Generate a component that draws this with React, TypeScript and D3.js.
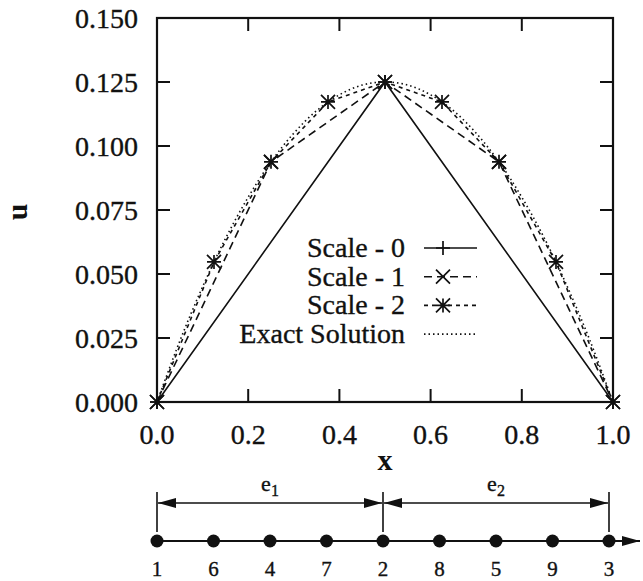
import React from "react";
import * as d3 from "d3";

// values
const xTicks = [0, 0.2, 0.4, 0.6, 0.8, 1.0];
const xTickLabels = ["0.0", "0.2", "0.4", "0.6", "0.8", "1.0"];
const yTicks = [0, 0.025, 0.05, 0.075, 0.1, 0.125, 0.15];
const yTickLabels = ["0.000", "0.025", "0.050", "0.075", "0.100", "0.125", "0.150"];

const scale0X = [0, 0.5, 1];
const scale0U = [0, 0.125, 0];
const scale1X = [0, 0.25, 0.5, 0.75, 1];
const scale1U = [0, 0.0938, 0.125, 0.0938, 0];
const scale2X = [0, 0.125, 0.25, 0.375, 0.5, 0.625, 0.75, 0.875, 1];
const scale2U = [0, 0.0547, 0.0938, 0.1172, 0.125, 0.1172, 0.0938, 0.0547, 0];
const exactX = [0, 0.05, 0.1, 0.15, 0.2, 0.25, 0.3, 0.35, 0.4, 0.45, 0.5, 0.55, 0.6, 0.65, 0.7, 0.75, 0.8, 0.85, 0.9, 0.95, 1];
const exactU = [0, 0.0238, 0.045, 0.0638, 0.08, 0.0938, 0.105, 0.1138, 0.12, 0.1238, 0.125, 0.1238, 0.12, 0.1138, 0.105, 0.0938, 0.08, 0.0638, 0.045, 0.0238, 0];

const legendLabels = ["Scale - 0", "Scale - 1", "Scale - 2", "Exact Solution"];

// mesh sketch below the plot
const nodePos = [0, 0.125, 0.25, 0.375, 0.5, 0.625, 0.75, 0.875, 1];
const nodeLabels = ["1", "6", "4", "7", "2", "8", "5", "9", "3"];
const elements = [
  { name: "e", sub: "1", from: 0, to: 0.5 },
  { name: "e", sub: "2", from: 0.5, to: 1 },
];

const W = 643;
const H = 581;
const plot = { left: 157, right: 613, top: 18, bottom: 402 };
const font = "Liberation Serif, Times New Roman, serif";
const ink = "#111";

const marker = (type: string, s: number) => {
  const plus = `M${-s},0H${s}M0,${-s}V${s}`;
  const cross = `M${-s},${-s}L${s},${s}M${-s},${s}L${s},${-s}`;
  if (type === "plus") return plus;
  if (type === "cross") return cross;
  if (type === "star") return plus + cross;
  return "";
};

export default function App() {
  const x = d3.scaleLinear().domain([0, 1]).range([plot.left, plot.right]);
  const y = d3.scaleLinear().domain([0, 0.15]).range([plot.bottom, plot.top]);

  const series = [
    { xs: scale0X, us: scale0U, dash: "none", mark: "plus", curve: d3.curveLinear },
    { xs: scale1X, us: scale1U, dash: "8,5", mark: "cross", curve: d3.curveLinear },
    { xs: scale2X, us: scale2U, dash: "4,4", mark: "star", curve: d3.curveLinear },
    { xs: exactX, us: exactU, dash: "1.5,3", mark: "none", curve: d3.curveCatmullRom },
  ];

  const mx = d3.scaleLinear().domain([0, 1]).range([157, 609]);
  const axisY = 541;
  const dimY = 503;
  const tick = 13;
  const txt = { fill: ink, stroke: ink, strokeWidth: 0.35 };

  return (
    <svg width={W} height={H} style={{ position: "absolute", left: 0, top: 0, background: "#fff", fontFamily: font }}>
      <defs>
        <marker id="arr" viewBox="0 0 18 10" refX="18" refY="5" markerWidth="18" markerHeight="10"
          markerUnits="userSpaceOnUse" orient="auto-start-reverse">
          <path d="M0,0L18,5L0,10Z" fill={ink} />
        </marker>
      </defs>

      {/* series lines */}
      {series.map((s, i) => {
        const line = d3.line<number>().x((d) => x(d)).y((_, j) => y(s.us[j])).curve(s.curve);
        return (
          <g key={i}>
            <path d={line(s.xs) || ""} fill="none" stroke={ink} strokeWidth={1.6}
              strokeDasharray={s.dash} />
            {s.xs.map((d, j) => (
              <path key={j} d={marker(s.mark, 7)} transform={`translate(${x(d)},${y(s.us[j])})`}
                stroke={ink} strokeWidth={1.7} fill="none" />
            ))}
          </g>
        );
      })}

      {/* frame and ticks */}
      <rect x={plot.left} y={plot.top} width={plot.right - plot.left} height={plot.bottom - plot.top}
        fill="none" stroke={ink} strokeWidth={2.2} />
      {xTicks.map((t, i) => (
        <g key={"x" + i}>
          <line x1={x(t)} x2={x(t)} y1={plot.bottom} y2={plot.bottom - tick} stroke={ink} strokeWidth={2} />
          <line x1={x(t)} x2={x(t)} y1={plot.top} y2={plot.top + tick} stroke={ink} strokeWidth={2} />
          <text x={x(t)} y={444} textAnchor="middle" fontSize={28} {...txt}>{xTickLabels[i]}</text>
        </g>
      ))}
      {yTicks.map((t, i) => (
        <g key={"y" + i}>
          <line x1={plot.left} x2={plot.left + tick} y1={y(t)} y2={y(t)} stroke={ink} strokeWidth={2} />
          <line x1={plot.right} x2={plot.right - tick} y1={y(t)} y2={y(t)} stroke={ink} strokeWidth={2} />
          <text x={138} y={y(t)} dy="0.35em" textAnchor="end" fontSize={28} {...txt}>{yTickLabels[i]}</text>
        </g>
      ))}
      <text x={x(0.5)} y={470} textAnchor="middle" fontSize={30} fontWeight="bold" fill={ink}>x</text>
      <text transform={`translate(27,${(plot.top + plot.bottom) / 2 + 2}) rotate(-90)`} textAnchor="middle"
        fontSize={30} fontWeight="bold" fill={ink}>u</text>

      {/* legend */}
      {legendLabels.map((lab, i) => {
        const ly = 257 + i * 28.7;
        const s = series[i];
        return (
          <g key={"l" + i}>
            <text x={405} y={ly} textAnchor="end" fontSize={28} {...txt}>{lab}</text>
            <line x1={424} x2={477} y1={ly - 9} y2={ly - 9} stroke={ink} strokeWidth={1.6}
              strokeDasharray={s.dash} />
            <path d={marker(s.mark, 7)} transform={`translate(443,${ly - 9})`} stroke={ink}
              strokeWidth={1.7} fill="none" />
          </g>
        );
      })}

      {/* mesh sketch */}
      <line x1={mx(0)} x2={640} y1={axisY} y2={axisY} stroke={ink} strokeWidth={1.8} markerEnd="url(#arr)" />
      {[0, 0.5, 1].map((p, i) => (
        <line key={"v" + i} x1={mx(p)} x2={mx(p)} y1={492} y2={532} stroke={ink} strokeWidth={1.6} />
      ))}
      {elements.map((e, i) => (
        <g key={"e" + i}>
          <line x1={mx(e.from) + 1} x2={mx(e.to) - 1} y1={dimY} y2={dimY} stroke={ink} strokeWidth={1.6}
            markerStart="url(#arr)" markerEnd="url(#arr)" />
          <text x={mx((e.from + e.to) / 2)} y={491} textAnchor="middle" fontSize={22} {...txt}>
            {e.name}
            <tspan fontSize={16} dy={5}>{e.sub}</tspan>
          </text>
        </g>
      ))}
      {nodePos.map((p, i) => (
        <g key={"n" + i}>
          <circle cx={mx(p)} cy={axisY} r={6.5} fill={ink} />
          <text x={mx(p)} y={576} textAnchor="middle" fontSize={21} {...txt}>{nodeLabels[i]}</text>
        </g>
      ))}
    </svg>
  );
}
